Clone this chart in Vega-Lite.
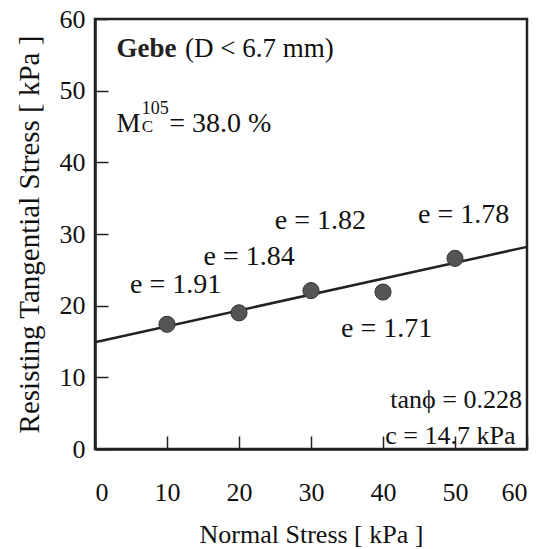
{
  "$schema": "https://vega.github.io/schema/vega-lite/v6.json",
  "width": 432,
  "height": 430,
  "autosize": {"type": "none"},
  "padding": {"left": 95, "top": 19, "right": 21, "bottom": 100},
  "background": "white",
  "config": {
    "font": "Liberation Serif",
    "view": {"stroke": "#222", "strokeWidth": 2.5},
    "axis": {
      "grid": false,
      "domainColor": "#222",
      "domainWidth": 2.5,
      "tickColor": "#222",
      "tickWidth": 1.5,
      "labelFont": "Liberation Serif",
      "labelFontSize": 26,
      "labelColor": "#111",
      "titleFont": "Liberation Serif",
      "titleFontSize": 26,
      "titleFontWeight": "normal",
      "titleColor": "#111"
    }
  },
  "datasets": {
    "pts": [
      {"sigma": 10, "tau": 17.4},
      {"sigma": 20, "tau": 19.0},
      {"sigma": 30, "tau": 22.1},
      {"sigma": 40, "tau": 21.9},
      {"sigma": 50, "tau": 26.6}
    ],
    "fit": [
      {"sigma": 0, "tau": 14.9},
      {"sigma": 60, "tau": 28.2}
    ],
    "elabels": [
      {"sigma": 11.2, "tau": 21.8, "text": "e = 1.91"},
      {"sigma": 21.4, "tau": 25.7, "text": "e = 1.84"},
      {"sigma": 31.3, "tau": 30.7, "text": "e = 1.82"},
      {"sigma": 40.5, "tau": 15.6, "text": "e = 1.71"},
      {"sigma": 51.2, "tau": 31.5, "text": "e = 1.78"}
    ]
  },
  "layer": [
    {
      "data": {"name": "fit"},
      "mark": {"type": "line", "color": "#222", "strokeWidth": 2.5},
      "encoding": {
        "x": {
          "field": "sigma", "type": "quantitative",
          "scale": {"domain": [0, 60], "nice": false},
          "axis": {"values": [0, 10, 20, 30, 40, 50, 60], "tickSize": -13, "labelPadding": 43, "title": "Normal Stress [ kPa ]", "titlePadding": 16}
        },
        "y": {
          "field": "tau", "type": "quantitative",
          "scale": {"domain": [0, 60], "nice": false},
          "axis": {"values": [0, 10, 20, 30, 40, 50, 60], "tickSize": -13, "labelPadding": 23, "title": "Resisting Tangential Stress [ kPa ]", "titlePadding": 15, "titleFontSize": 29}
        }
      }
    },
    {
      "data": {"name": "pts"},
      "mark": {"type": "circle", "size": 260, "color": "#555", "stroke": "#333", "strokeWidth": 1, "opacity": 1},
      "encoding": {
        "x": {"field": "sigma", "type": "quantitative"},
        "y": {"field": "tau", "type": "quantitative"}
      }
    },
    {
      "data": {"name": "elabels"},
      "mark": {"type": "text", "fontSize": 28, "color": "#111", "align": "center", "baseline": "alphabetic"},
      "encoding": {
        "x": {"field": "sigma", "type": "quantitative"},
        "y": {"field": "tau", "type": "quantitative"},
        "text": {"field": "text"}
      }
    },
    {
      "data": {"values": [{"sigma": 3.0, "tau": 54.7, "text": "Gebe"}]},
      "mark": {"type": "text", "fontSize": 27, "fontWeight": "bold", "color": "#222", "align": "left", "baseline": "alphabetic"},
      "encoding": {
        "x": {"field": "sigma", "type": "quantitative"},
        "y": {"field": "tau", "type": "quantitative"},
        "text": {"field": "text"}
      }
    },
    {
      "data": {"values": [{"sigma": 12.5, "tau": 54.7, "text": "(D < 6.7 mm)"}]},
      "mark": {"type": "text", "fontSize": 27, "color": "#111", "align": "left", "baseline": "alphabetic"},
      "encoding": {
        "x": {"field": "sigma", "type": "quantitative"},
        "y": {"field": "tau", "type": "quantitative"},
        "text": {"field": "text"}
      }
    },
    {
      "data": {"values": [
        {"sigma": 3.0, "tau": 44.2, "text": "M", "size": 27},
        {"sigma": 6.5, "tau": 44.2, "text": "C", "size": 17},
        {"sigma": 6.5, "tau": 46.8, "text": "105", "size": 18},
        {"sigma": 10.3, "tau": 44.2, "text": "= 38.0 %", "size": 28}
      ]},
      "mark": {"type": "text", "color": "#111", "align": "left", "baseline": "alphabetic"},
      "encoding": {
        "x": {"field": "sigma", "type": "quantitative"},
        "y": {"field": "tau", "type": "quantitative"},
        "text": {"field": "text"},
        "size": {"field": "size", "type": "quantitative", "scale": null}
      }
    },
    {
      "data": {"values": [
        {"sigma": 59.3, "tau": 5.7, "text": "tanϕ = 0.228"},
        {"sigma": 58.4, "tau": 0.7, "text": "c = 14.7 kPa"}
      ]},
      "mark": {"type": "text", "fontSize": 26, "color": "#111", "align": "right", "baseline": "alphabetic"},
      "encoding": {
        "x": {"field": "sigma", "type": "quantitative"},
        "y": {"field": "tau", "type": "quantitative"},
        "text": {"field": "text"}
      }
    }
  ]
}
